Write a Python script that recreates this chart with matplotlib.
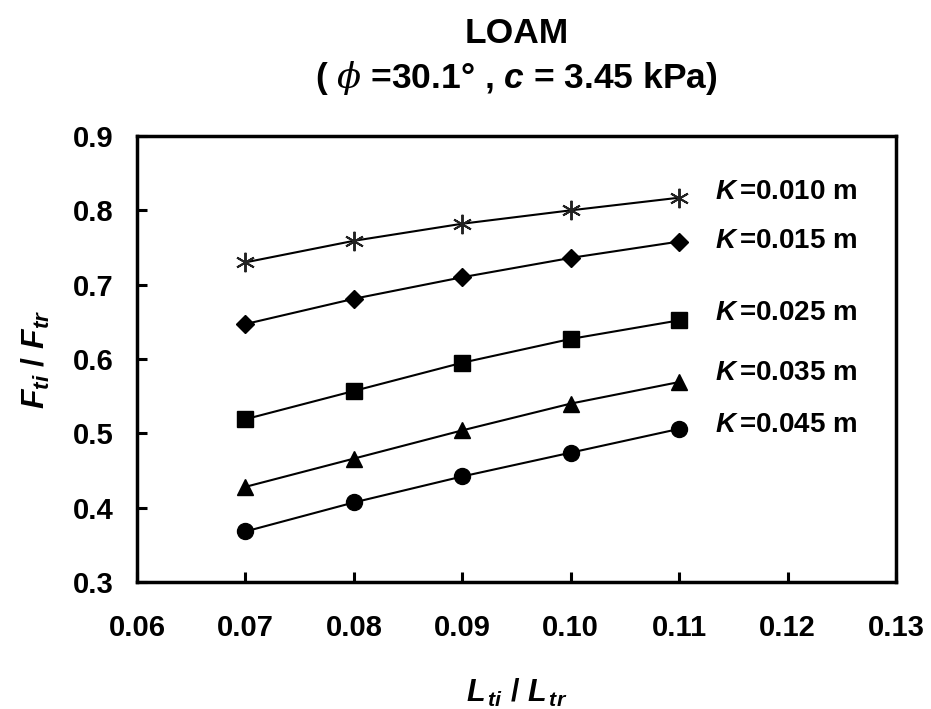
import numpy as np
import matplotlib
matplotlib.use("Agg")
import matplotlib.pyplot as plt

plt.rcParams['font.family'] = ['Liberation Sans', 'DejaVu Sans']
plt.rcParams['font.weight'] = 'bold'
plt.rcParams['mathtext.fontset'] = 'custom'
plt.rcParams['mathtext.it'] = 'Liberation Sans:italic:bold'
plt.rcParams['mathtext.rm'] = 'Liberation Sans:bold'
plt.rcParams['mathtext.bf'] = 'Liberation Sans:bold'
plt.rcParams['mathtext.cal'] = 'DejaVu Serif:italic:normal'

# data
ratio_L = [0.07, 0.08, 0.09, 0.10, 0.11]
k_labels = ["0.010", "0.015", "0.025", "0.035", "0.045"]
f_k010 = [0.730, 0.759, 0.782, 0.800, 0.817]
f_k015 = [0.647, 0.681, 0.710, 0.736, 0.758]
f_k025 = [0.519, 0.557, 0.595, 0.627, 0.652]
f_k035 = [0.428, 0.466, 0.504, 0.540, 0.569]
f_k045 = [0.368, 0.407, 0.442, 0.474, 0.506]

series = [f_k010, f_k015, f_k025, f_k035, f_k045]
markers = [(6, 2, 0), 'D', 's', '^', 'o']
msizes = [14, 9.5, 12, 12, 11.5]
label_dy = [6, 1, 7, 9, 4]   # label offset above last point, px

fig = plt.figure(figsize=(9.31, 7.09), dpi=100)
ax = fig.add_axes([137/931, 1-582/709, (896-137)/931, (582-136)/709])

for ys, mk, ms, lab, dy in zip(series, markers, msizes, k_labels, label_dy):
    if mk == (6, 2, 0):
        ax.plot(ratio_L, ys, color='black', lw=1.5, marker=mk, ms=ms,
                mec='#222222', mew=1.4)
    else:
        ax.plot(ratio_L, ys, color='black', lw=1.5, marker=mk, ms=ms,
                mfc='black', mec='black')
    ax.annotate(r'$K\,$' + '=' + lab + ' m', xy=(ratio_L[-1], ys[-1]),
                xytext=(36*0.72, dy*0.72), textcoords='offset points',
                fontsize=20, fontweight='bold', va='center', ha='left')

ax.set_xlim(0.06, 0.13)
ax.set_ylim(0.3, 0.9)
ax.set_xticks(np.arange(0.06, 0.1301, 0.01))
ax.set_xticklabels(["0.06", "0.07", "0.08", "0.09", "0.10", "0.11", "0.12", "0.13"])
ax.set_yticks(np.arange(0.3, 0.901, 0.1))
ax.set_yticklabels(["0.3", "0.4", "0.5", "0.6", "0.7", "0.8", "0.9"])

for s in ax.spines.values():
    s.set_linewidth(2.5)
ax.tick_params(axis='both', direction='in', length=7, width=2.2, labelsize=21)
ax.tick_params(axis='x', pad=23)
ax.tick_params(axis='y', pad=17)
for t in ax.get_xticklabels() + ax.get_yticklabels():
    t.set_fontweight('bold')

ax.set_ylabel(r'$F_{ti}$ / $F_{tr}$', fontsize=23, fontweight='bold')
ax.yaxis.set_label_coords(-0.112, 0.5)
ax.set_xlabel(r'$L_{\,ti}$ / $L_{\,tr}$', fontsize=22, fontweight='bold')
ax.xaxis.set_label_coords(0.5, -0.213)

cx = (137 + 896) / 2 / 931
fig.text(cx, 1-43/709, "LOAM", ha='center', va='baseline', fontsize=25.5, fontweight='bold')
fig.text(cx, 1-88/709, r'( $\mathcal{\phi}$ =30.1° , $c$ = 3.45 kPa)', ha='center',
         va='baseline', fontsize=25.5, fontweight='bold')

fig.savefig("out.png", dpi=100)
